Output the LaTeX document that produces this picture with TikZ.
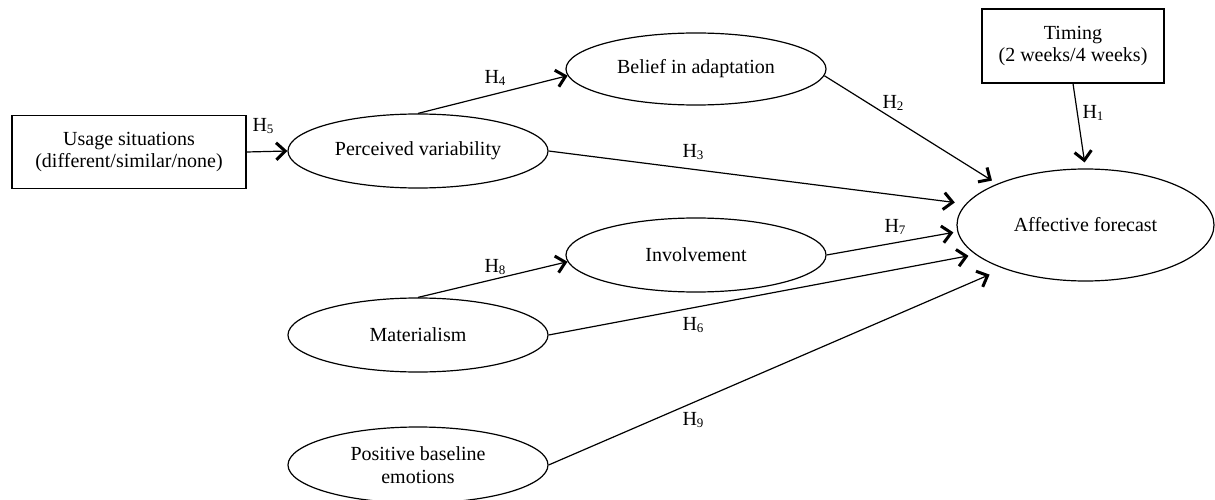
\documentclass[tikz,border=0pt]{standalone}
\usepackage{fontspec}
\setmainfont{Liberation Serif}
\usetikzlibrary{shapes.geometric,arrows.meta}
\newcommand\hypo[1]{H{\fontsize{13}{13}\selectfont\raisebox{-1.5pt}{#1}}}
\begin{document}
\begin{tikzpicture}[x=1pt,y=-1pt,
  every node/.style={font=\fontsize{20}{22.5}\selectfont},
  ell/.style={draw, ellipse, line width=1.2pt, minimum width=260pt, minimum height=74pt, inner sep=0pt},
  box/.style={draw, rectangle, line width=1.2pt, align=center, inner sep=0pt},
  txt/.style={align=center, inner sep=0pt},
  hyl/.style={inner sep=0pt},
  arr/.style={line width=1.2pt, -{Straight Barb[length=9pt,width=17pt,line width=3pt]}}
]
\useasboundingbox (0,0) rectangle (1215,500);

% boxes
\node[box, minimum width=234pt, minimum height=73pt] (use) at (129,152) {Usage situations\\(different/similar/none)};
\node[box, minimum width=182pt, minimum height=74pt] (tim) at (1073,46) {Timing\\(2 weeks/4 weeks)};

% ellipses
\node[ell] (perc) at (418,151) {};
\node[txt] (percT) at (perc.center) {Perceived variability};
\node[ell, minimum height=72pt] (bel) at (696,69) {};
\node[txt] (belT) at (bel.center) {Belief in adaptation};
\node[ell] (inv) at (696,255) {};
\node[txt] (invT) at (inv.center) {Involvement};
\node[ell] (mat) at (418,335) {};
\node[txt] (matT) at (mat.center) {Materialism};
\node[ell, minimum height=76pt] (pos) at (418,465) {};
\node[txt] (posT) at (pos.center) {Positive baseline\\emotions};
\node[ell, minimum width=257pt, minimum height=112pt] (aff) at (1085.5,225) {};
\node[txt] (affT) at (aff.center) {Affective forecast};

% connectors
\draw[arr] (use.east) -- (perc.west);
\draw[arr] (perc.north) -- (bel.183);
\draw[arr] (mat.north) -- (inv.183);
\draw[arr, shorten >=6pt] (bel.-3) -- (aff.155.4);
\draw[arr, shorten >=11pt] (perc.east) -- (aff.170);
\draw[arr, shorten >=4pt] (inv.east) -- (aff.183.4);
\draw[arr, shorten >=7pt] (mat.east) -- (aff.195.4);
\draw[arr, shorten >=15pt] (pos.east) -- (aff.208.5);
\draw[arr, shorten >=6pt] (tim.south) -- (aff.north);

% hypothesis labels
\node[hyl] (h5) at (263,126) {\hypo{5}};
\node[hyl] (h4) at (495,78) {\hypo{4}};
\node[hyl] (h8) at (495,267) {\hypo{8}};
\node[hyl] (h2) at (893,103) {\hypo{2}};
\node[hyl] (h3) at (693,152) {\hypo{3}};
\node[hyl] (h1) at (1093,113) {\hypo{1}};
\node[hyl] (h7) at (895,227) {\hypo{7}};
\node[hyl] (h6) at (693,325) {\hypo{6}};
\node[hyl] (h9) at (693,420) {\hypo{9}};
\end{tikzpicture}
\end{document}
